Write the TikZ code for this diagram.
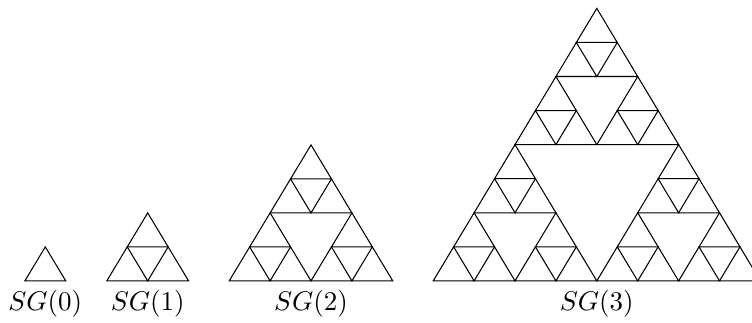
\documentclass[tikz,border=0pt]{standalone}
\usepackage{tikz}
\newcommand\sgrec[1]{%
  \ifnum\numexpr#1\relax=0
    \draw[edge] (0,0) -- (1,0) -- (0.5,1) -- cycle;
  \else
    \begin{scope}[scale=0.5]\sgrec{#1-1}\end{scope}%
    \begin{scope}[shift={(0.5,0)},scale=0.5]\sgrec{#1-1}\end{scope}%
    \begin{scope}[shift={(0.25,0.5)},scale=0.5]\sgrec{#1-1}\end{scope}%
  \fi}
\tikzset{
  edge/.style={line width=1.05pt, black},
  lbl/.style={anchor=base, inner sep=0pt, scale=2.7}
}
\begin{document}
\begin{tikzpicture}[x=1pt,y=1pt]
\useasboundingbox (0,0) rectangle (752,322);
\clip (0,0) rectangle (752,322);
% SG(0)
\begin{scope}[shift={(24.85,41.1)},xscale=40.9,yscale=34]\sgrec{0}\end{scope}
% SG(1)
\begin{scope}[shift={(106.8,41.1)},xscale=81.8,yscale=68]\sgrec{1}\end{scope}
% SG(2)
\begin{scope}[shift={(229.2,41.1)},xscale=163.6,yscale=136]\sgrec{2}\end{scope}
% SG(3)
\begin{scope}[shift={(433.2,41.1)},xscale=327.2,yscale=272.5]\sgrec{3}\end{scope}
\node[lbl] (l0) at (45.3,11.7) {$SG(0)$};
\node[lbl] (l1) at (147.7,11.7) {$SG(1)$};
\node[lbl] (l2) at (311,11.7) {$SG(2)$};
\node[lbl] (l3) at (596.8,11.7) {$SG(3)$};
\end{tikzpicture}
\end{document}
